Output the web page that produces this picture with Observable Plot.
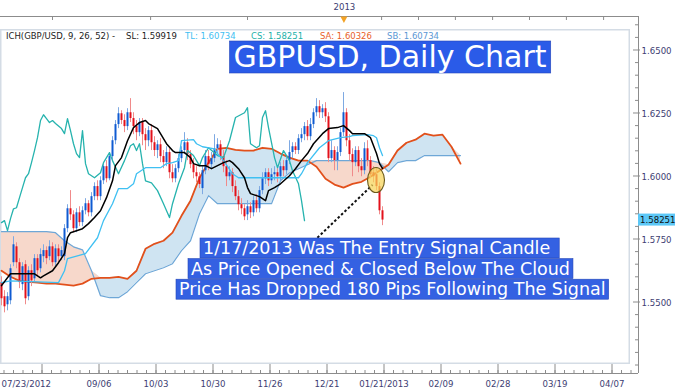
<!DOCTYPE html>
<html>
<head>
<meta charset="utf-8">
<script src="https://cdn.jsdelivr.net/npm/d3@7"></script>
<script src="https://cdn.jsdelivr.net/npm/@observablehq/plot@0.6"></script>
<style>
  html, body { margin: 0; padding: 0; background: #ffffff; }
  #chart { width: 680px; height: 391px; overflow: hidden; }
  #chart svg { display: block; }
</style>
</head>
<body>
<div id="chart"></div>
<script>
// ---------------- DATA ----------------
const open = [
1.5577,1.5521,1.5489,1.5505,1.5656,1.5719,1.5656,1.5569,1.5648,1.5521,
1.5624,1.5592,1.5672,1.5632,1.5680,1.5704,1.5680,1.5719,1.5656,1.5711,
1.5680,1.5680,1.5791,1.5870,1.5846,1.5791,1.5854,1.5815,1.5862,1.5890,
1.5854,1.5918,1.5958,1.5918,1.5981,1.6037,1.5989,1.6077,1.6140,1.6204,
1.6247,1.6220,1.6196,1.6251,1.6228,1.6196,1.6172,1.6212,1.6164,1.6140,
1.6180,1.6132,1.6101,1.6124,1.6077,1.6053,1.6093,1.6013,1.5989,1.6029,
1.6069,1.6101,1.6132,1.6085,1.6045,1.6013,1.5997,1.5950,1.6021,1.6077,
1.6045,1.6069,1.6108,1.6124,1.6077,1.6037,1.5997,1.6013,1.5958,1.5918,
1.5886,1.5870,1.5846,1.5878,1.5854,1.5902,1.5870,1.5942,1.5989,1.6013,
1.5981,1.6005,1.6013,1.5997,1.6037,1.6021,1.6061,1.6093,1.6116,1.6101,
1.6148,1.6164,1.6196,1.6156,1.6204,1.6251,1.6275,1.6251,1.6267,1.6235,
1.6069,1.6101,1.6061,1.6093,1.6172,1.6251,1.6140,1.6085,1.6053,1.6101,
1.6037,1.6021,1.6108,1.6061,1.6013,1.6005,1.5958,1.5862];
const high = [
1.5600,1.5545,1.5537,1.5648,1.5759,1.5735,1.5672,1.5656,1.5664,1.5640,
1.5648,1.5688,1.5688,1.5711,1.5727,1.5719,1.5743,1.5735,1.5727,1.5727,
1.5719,1.5807,1.5886,1.5942,1.5862,1.5870,1.5878,1.5878,1.5910,1.5902,
1.5934,1.5973,1.5981,1.5997,1.6053,1.6061,1.6093,1.6156,1.6220,1.6271,
1.6259,1.6243,1.6267,1.6307,1.6251,1.6220,1.6228,1.6228,1.6188,1.6196,
1.6204,1.6156,1.6140,1.6148,1.6101,1.6116,1.6108,1.6045,1.6045,1.6085,
1.6116,1.6172,1.6148,1.6101,1.6069,1.6037,1.6013,1.6037,1.6101,1.6101,
1.6093,1.6164,1.6148,1.6140,1.6101,1.6061,1.6037,1.6029,1.5981,1.5942,
1.5910,1.5886,1.5902,1.5894,1.5918,1.5926,1.5958,1.6013,1.6029,1.6029,
1.6029,1.6037,1.6037,1.6053,1.6061,1.6077,1.6140,1.6132,1.6132,1.6164,
1.6188,1.6212,1.6220,1.6228,1.6267,1.6307,1.6299,1.6283,1.6291,1.6251,
1.6140,1.6116,1.6116,1.6188,1.6331,1.6267,1.6164,1.6108,1.6116,1.6116,
1.6069,1.6132,1.6140,1.6077,1.6037,1.6029,1.5973,1.5878];
const low = [
1.5485,1.5457,1.5465,1.5489,1.5640,1.5632,1.5553,1.5545,1.5489,1.5505,
1.5561,1.5577,1.5600,1.5616,1.5656,1.5648,1.5664,1.5640,1.5640,1.5656,
1.5664,1.5664,1.5775,1.5823,1.5775,1.5775,1.5799,1.5799,1.5846,1.5838,
1.5838,1.5902,1.5902,1.5902,1.5966,1.5973,1.5981,1.6061,1.6124,1.6188,
1.6204,1.6172,1.6180,1.6212,1.6164,1.6140,1.6156,1.6120,1.6101,1.6116,
1.6101,1.6077,1.6069,1.6053,1.6029,1.6037,1.5989,1.5973,1.5973,1.6013,
1.6053,1.6085,1.6061,1.6029,1.5989,1.5973,1.5950,1.5926,1.6005,1.6021,
1.6029,1.6053,1.6085,1.6061,1.6013,1.5958,1.5981,1.5934,1.5902,1.5862,
1.5846,1.5823,1.5823,1.5831,1.5838,1.5854,1.5854,1.5926,1.5966,1.5958,
1.5966,1.5981,1.5973,1.5981,1.5997,1.6005,1.6045,1.6069,1.6085,1.6085,
1.6132,1.6140,1.6140,1.6140,1.6188,1.6235,1.6228,1.6228,1.6212,1.6053,
1.6053,1.6021,1.6021,1.6077,1.6156,1.6116,1.6061,1.5997,1.6037,1.6013,
1.5997,1.6005,1.6037,1.5989,1.5973,1.5942,1.5846,1.5803];
const close = [
1.5513,1.5481,1.5521,1.5632,1.5727,1.5656,1.5577,1.5640,1.5513,1.5624,
1.5584,1.5672,1.5624,1.5688,1.5704,1.5672,1.5719,1.5656,1.5711,1.5680,
1.5704,1.5791,1.5870,1.5846,1.5791,1.5854,1.5815,1.5862,1.5890,1.5854,
1.5918,1.5958,1.5918,1.5981,1.6037,1.5989,1.6077,1.6140,1.6204,1.6247,
1.6220,1.6196,1.6251,1.6228,1.6196,1.6172,1.6212,1.6164,1.6140,1.6180,
1.6132,1.6101,1.6124,1.6077,1.6053,1.6093,1.6013,1.5989,1.6029,1.6069,
1.6101,1.6132,1.6085,1.6045,1.6013,1.5997,1.5966,1.6021,1.6077,1.6045,
1.6069,1.6108,1.6124,1.6077,1.6037,1.5997,1.6013,1.5958,1.5918,1.5886,
1.5870,1.5838,1.5878,1.5854,1.5902,1.5870,1.5942,1.5989,1.6013,1.5981,
1.6005,1.6013,1.5997,1.6037,1.6021,1.6061,1.6093,1.6116,1.6101,1.6148,
1.6164,1.6196,1.6156,1.6204,1.6251,1.6275,1.6251,1.6267,1.6235,1.6069,
1.6101,1.6061,1.6093,1.6172,1.6251,1.6140,1.6085,1.6053,1.6101,1.6037,
1.6021,1.6108,1.6061,1.6005,1.5997,1.5958,1.5862,1.58251];

// Tenkan-sen (black), [bar index, price]
const tenkan = [[0,1.5565],[3,1.5612],[11,1.5612],[13,1.5596],[14,1.5604],[17,1.5624],[19,1.5656],[21,1.5692],[22,1.5755],[23,1.5775],[27,1.5791],[29,1.5811],[31,1.5835],[33,1.5862],[35,1.5914],[37,1.5981],[38,1.6041],[40,1.6073],[42,1.6140],[44,1.6192],[46,1.6212],[48,1.6220],[49,1.6208],[52,1.6188],[53,1.6168],[55,1.6128],[57,1.6101],[58,1.6093],[61,1.6093],[63,1.6073],[64,1.6049],[66,1.6041],[68,1.6041],[70,1.6029],[72,1.6041],[74,1.6053],[76,1.6061],[77,1.6053],[79,1.6029],[81,1.5993],[82,1.5954],[83,1.5930],[86,1.5918],[87,1.5910],[88,1.5902],[89,1.5942],[91,1.5954],[93,1.5969],[96,1.6001],[98,1.6029],[100,1.6061],[102,1.6089],[104,1.6128],[107,1.6168],[109,1.6188],[112,1.6192],[114,1.6200],[116,1.6180],[117,1.6168],[121,1.6168],[123,1.6152],[125,1.6089],[126,1.6049],[127,1.6030]];
// Kijun-sen (light blue)
const kijun = [[0,1.5577],[3,1.5584],[19,1.5577],[21,1.5624],[22,1.5672],[28,1.5692],[32,1.5755],[34,1.5823],[37,1.5890],[39,1.5950],[42,1.5950],[44,1.5969],[45,1.6009],[48,1.6033],[53,1.6033],[55,1.6049],[57,1.6053],[59,1.6061],[60,1.6140],[64,1.6144],[65,1.6128],[67,1.6116],[71,1.6108],[72,1.6089],[74,1.6061],[77,1.6009],[79,1.5993],[84,1.5993],[99,1.5993],[100,1.6009],[102,1.6053],[106,1.6112],[109,1.6140],[113,1.6152],[116,1.6156],[117,1.6160],[122,1.6164],[124,1.6160],[125,1.6152],[126,1.6112],[127,1.6081]];
// Chikou span (teal)
const chikou = [[0,1.5815],[1,1.5823],[2,1.5783],[3,1.5831],[4,1.5870],[5,1.5874],[6,1.5914],[7,1.5954],[8,1.5993],[9,1.6009],[10,1.6053],[11,1.6101],[12,1.6152],[13,1.6220],[14,1.6243],[15,1.6228],[16,1.6212],[17,1.6220],[18,1.6208],[20,1.6188],[21,1.6168],[22,1.6228],[23,1.6180],[24,1.6128],[25,1.6089],[26,1.6073],[27,1.6180],[28,1.6049],[29,1.6009],[31,1.5993],[33,1.6013],[34,1.6053],[35,1.6073],[36,1.6093],[37,1.6061],[39,1.6009],[41,1.6061],[43,1.6120],[44,1.6128],[45,1.6101],[46,1.6128],[47,1.6049],[48,1.5981],[50,1.5973],[52,1.5942],[54,1.5890],[56,1.5835],[57,1.5890],[59,1.5969],[61,1.6033],[62,1.6101],[64,1.6081],[66,1.6041],[67,1.6073],[69,1.6112],[72,1.6081],[74,1.6073],[76,1.6140],[78,1.6232],[81,1.6251],[82,1.6271],[83,1.6128],[85,1.6112],[86,1.6120],[87,1.6232],[88,1.6259],[89,1.6192],[91,1.6073],[92,1.6033],[94,1.6101],[96,1.6061],[97,1.6021],[99,1.5969],[100,1.5902],[101,1.5823]];
// Kumo (cloud), every 3 bars, runs 26 bars past the last candle
const cloudIdx = [0,3,6,9,12,15,18,21,24,27,30,33,36,39,42,45,48,51,54,57,60,63,66,69,72,75,78,81,84,87,90,93,96,99,102,105,108,111,114,117,120,123,126,129,132,135,138,141,144,147,150,153];
const senkouA = [1.5624,1.5600,1.5584,1.5580,1.5577,1.5573,1.5573,1.5569,1.5565,1.5573,
1.5592,1.5596,1.5596,1.5600,1.5592,1.5624,1.5711,1.5731,1.5743,1.5775,
1.5842,1.5902,1.5993,1.6053,1.6108,1.6112,1.6104,1.6101,1.6101,1.6112,
1.6108,1.6089,1.6073,1.6061,1.6061,1.6037,1.5989,1.5966,1.5954,1.5969,
1.5977,1.5997,1.6021,1.6045,1.6101,1.6132,1.6144,1.6168,1.6160,1.6164,
1.6116,1.6049];
const senkouB = [1.5779,1.5779,1.5779,1.5779,1.5779,1.5779,1.5775,1.5743,1.5719,1.5707,
1.5624,1.5525,1.5517,1.5517,1.5541,1.5577,1.5612,1.5624,1.5636,1.5652,
1.5704,1.5743,1.5850,1.5922,1.5890,1.5890,1.5890,1.5890,1.5890,1.5890,
1.5890,1.5981,1.6013,1.6029,1.6045,1.6061,1.6061,1.6061,1.6061,1.6061,
1.6061,1.6061,1.6053,1.6017,1.6053,1.6061,1.6061,1.6081,1.6081,1.6081,
1.6081,1.6081];

const priceTicks = [1.55, 1.575, 1.60, 1.625, 1.65];
const dateTickIdx = [13.5, 32.5, 51.5, 70.5, 89.5, 108.5, 127.5, 146.5, 165.5, 184.5, 203.5];
const dateTickLabels = ["", "09/06", "10/03", "10/30", "11/26", "12/21", "01/21/2013", "02/09", "02/28", "03/19", "04/07"];
const firstDateLabel = "07/23/2012";
const topTickIdx = [17, 49.7, 82, 114.3, 126.7, 139, 151.3, 163.7, 176, 188.3, 200.7];
const topYearLabel = {i: 114.3, t: "2013"};
const headerParts = ["ICH(GBP/USD, 9, 26, 52) -", "SL: 1.59919", "TL: 1.60734", "CS: 1.58251", "SA: 1.60326", "SB: 1.60734"];
const titleText = "GBPUSD, Daily Chart";
const noteLines = ["1/17/2013 Was The Entry Signal Candle", "As Price Opened & Closed Below The Cloud", "Price Has Dropped 180 Pips Following The Signal"];
const signalBar = {i: 125, price: 1.5982};
const pointer = [{x1: 105.3, y1: 1.5755, x2: 123.7, y2: 1.5965}];

// ---------------- CHART ----------------
const W = 680, H = 391, mT = 16, mB = 18, mL = 0, mR = 42;
const xMin = -1/3, xMax = 212 + 1/3;
const yMin = 1.52163, yMax = 1.66329;
const pxX = (xMax - xMin) / (W - mL - mR);
const pxY = (yMax - yMin) / (H - mT - mB);

const bars = open.map((o, i) => ({i, o, h: high[i], l: low[i], c: close[i]}));
const upBars = bars.filter(d => d.c >= d.o);
const dnBars = bars.filter(d => d.c < d.o);
const cloud = cloudIdx.map((i, k) => ({i, a: senkouA[k], b: senkouB[k], top: Math.max(senkouA[k], senkouB[k])}));
const minorY = d3.range(1.525, 1.6601, 0.005).filter(v => !priceTicks.some(t => Math.abs(t - v) < 1e-6));
const minorX = d3.range(dateTickIdx[0] - 19, xMax, 19 / 6).filter(v => v > xMin);
const dateLabels = dateTickIdx.map((i, k) => ({i, t: dateTickLabels[k]})).filter(d => d.t);

const axisCol = "#8c8c8c", labCol = "#3d3d72", font = "DejaVu Sans";

const chart = Plot.plot({
  width: W, height: H,
  marginTop: mT, marginBottom: mB, marginLeft: mL, marginRight: mR,
  x: {type: "linear", domain: [xMin, xMax], axis: null},
  y: {type: "linear", domain: [yMin, yMax], axis: null},
  style: {background: "#ffffff", fontFamily: font, overflow: "visible"},
  marks: [
    Plot.areaY(cloud, {x: "i", y1: "b", y2: "top", fill: "#cfe4f2"}),
    Plot.areaY(cloud, {x: "i", y1: "a", y2: "top", fill: "#f7d8cb"}),
    Plot.lineY(cloud, {x: "i", y: "b", stroke: "#6ea7d7", strokeWidth: 1.2}),
    Plot.lineY(cloud, {x: "i", y: "a", stroke: "#e2501b", strokeWidth: 1.8}),
    Plot.ruleX(upBars, {x: "i", y1: "l", y2: "h", stroke: "#7ea9e2", strokeWidth: 1}),
    Plot.ruleX(dnBars, {x: "i", y1: "l", y2: "h", stroke: "#f08a8a", strokeWidth: 1}),
    Plot.ruleX(upBars, {x: "i", y1: "o", y2: "c", stroke: "#0f5bd2", strokeWidth: 2}),
    Plot.ruleX(dnBars, {x: "i", y1: "o", y2: "c", stroke: "#e3111b", strokeWidth: 2}),
    Plot.line(chikou, {x: d => d[0], y: d => d[1], stroke: "#26b3ae", strokeWidth: 1.3}),
    Plot.line(kijun, {x: d => d[0], y: d => d[1], stroke: "#3fc0f2", strokeWidth: 1.3}),
    Plot.line(tenkan, {x: d => d[0], y: d => d[1], stroke: "#000000", strokeWidth: 1.5}),
    Plot.link(pointer, {x1: "x1", y1: "y1", x2: "x2", y2: "y2", stroke: "#111", strokeWidth: 2, strokeDasharray: "2.5,2.2"}),
    // axes
    Plot.ruleY([yMin], {stroke: axisCol, strokeWidth: 1}),
    Plot.ruleY([yMax], {stroke: axisCol, strokeWidth: 1}),
    Plot.ruleX([xMax], {stroke: axisCol, strokeWidth: 1}),
    Plot.ruleX(dateTickIdx, {y1: yMin, y2: yMin + 9 * pxY, stroke: axisCol}),
    Plot.ruleX(minorX, {y1: yMin, y2: yMin + 3 * pxY, stroke: axisCol}),
    Plot.ruleX(topTickIdx, {y1: yMax, y2: yMax - 4 * pxY, stroke: axisCol}),
    Plot.ruleY(priceTicks, {x1: xMax - 5 * pxX, x2: xMax + 2 * pxX, stroke: axisCol}),
    Plot.ruleY(minorY, {x1: xMax - 3 * pxX, x2: xMax, stroke: axisCol}),
    Plot.text(priceTicks, {x: xMax, y: d => d, text: d => d.toFixed(4), textAnchor: "start", dx: 3, dy: 1.5, fontSize: 8.6, fill: labCol}),
    Plot.text(dateLabels, {x: "i", y: yMin, text: "t", dy: 10.5, fontSize: 8.6, fill: labCol}),
    Plot.text([firstDateLabel], {x: xMin, y: yMin, text: d => d, textAnchor: "start", dx: 1, dy: 10.5, fontSize: 8.6, fill: labCol}),
    Plot.text([topYearLabel], {x: "i", y: yMax, text: "t", dy: -9, fontSize: 8.6, fill: labCol})
  ]
});
document.getElementById("chart").appendChild(chart);

// ---------------- DECORATIONS ----------------
const svg = d3.select(chart);
const sx = chart.scale("x"), sy = chart.scale("y");
const X = v => sx.apply(v), Y = v => sy.apply(v);

// light inner frame
svg.insert("rect", ":first-child")
  .attr("x", 0.75).attr("y", 29.75).attr("width", 628.5).attr("height", 333.5)
  .attr("fill", "none").attr("stroke", "#d4dce5").attr("stroke-width", 1.5);

// year marker
const mx = X(topYearLabel.i), my = Y(yMax);
svg.append("path").attr("d", `M${mx - 3.5},${my + 0.5}L${mx + 3.5},${my + 0.5}L${mx},${my + 7}Z`).attr("fill", "#f3a224");

// header
const headerX = [6, 126, 185, 251, 320, 387];
const headerCol = ["#1c1c1c", "#1c1c1c", "#3fc0f2", "#22b0a8", "#e8602a", "#5b97d4"];
headerParts.forEach((t, k) => {
  svg.append("text").attr("x", headerX[k]).attr("y", 38.5).attr("font-family", font)
    .attr("text-anchor", "start").attr("font-size", 8.5).attr("fill", headerCol[k]).text(t);
});

// signal ellipse
svg.append("ellipse").attr("cx", X(signalBar.i)).attr("cy", Y(signalBar.price))
  .attr("rx", 8.5).attr("ry", 12.5).attr("fill", "#f7d458").attr("fill-opacity", 0.72)
  .attr("stroke", "#6b5a1c").attr("stroke-width", 1.1);

// current price highlight
const lastP = close[close.length - 1];
svg.append("rect").attr("x", X(xMax)).attr("y", Y(lastP) - 6).attr("width", 37).attr("height", 12).attr("fill", "#5cc8f7");
svg.append("text").attr("x", X(xMax) + 2).attr("y", Y(lastP) + 3.2).attr("font-family", font)
  .attr("text-anchor", "start").attr("font-size", 8.6).attr("fill", "#111").text(lastP.toFixed(5));

// boxed text helper
function boxedText(str, x, baseline, size, anchor, padL, padR, boxTop, boxH, fillCol) {
  const g = svg.append("g");
  const r = g.append("rect");
  const t = g.append("text").attr("x", x).attr("y", baseline).attr("font-family", font)
    .attr("font-size", size).attr("fill", "#ffffff").attr("text-anchor", anchor).text(str);
  const bb = t.node().getBBox();
  r.attr("x", bb.x - padL).attr("y", boxTop).attr("width", bb.width + padL + padR).attr("height", boxH)
    .attr("fill", fillCol).attr("stroke", "#2546b8").attr("stroke-width", 0.6);
}
boxedText(titleText, 390, 67, 30, "middle", 4, 4, 41, 32, "#2a5be8");
const noteLeft = [203, 191, 179];
const notePadR = [9, 3, 3];
noteLines.forEach((s, k) => {
  boxedText(s, noteLeft[k], 254 + k * 20.6, 17.5, "start", 3, notePadR[k], 238 + k * 20.6, 20, "#3461e2");
});
</script>
</body>
</html>
